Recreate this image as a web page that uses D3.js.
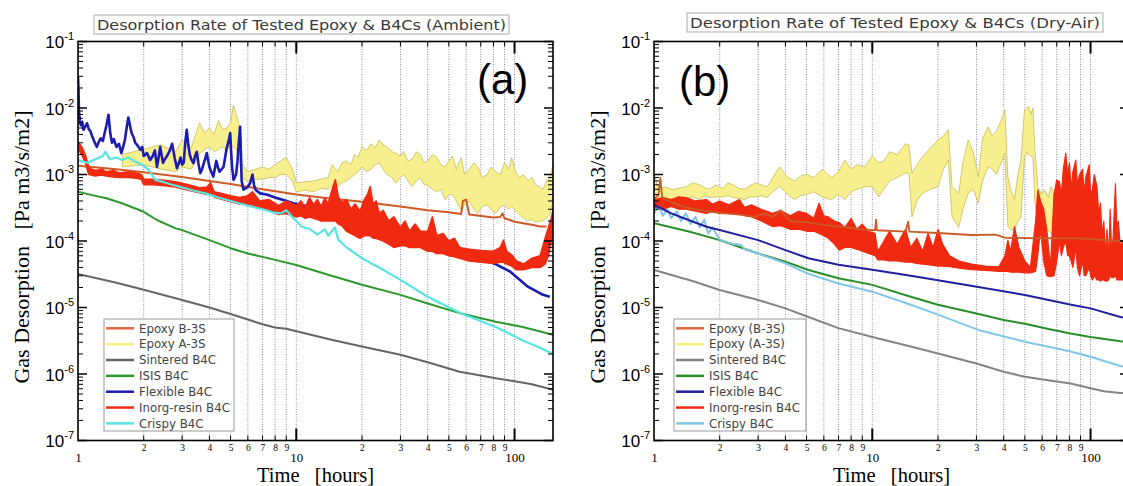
<!DOCTYPE html>
<html><head><meta charset="utf-8">
<script src="https://cdn.jsdelivr.net/npm/d3@7"></script>
<style>body{margin:0;background:#fff}svg{display:block;overflow:hidden}</style>
</head><body><svg id="c" width="1123" height="486"></svg>
<script>
// ---------- axis / tick data ----------
const xDomain = [1, 150];
const yDomain = [1e-7, 1e-1];
const xMajorTicks = [10, 100];
const xMajorLabels = [1, 10, 100];
const xMinorTicks = [2,3,4,5,6,7,8,9,20,30,40,50,60,70,80,90];
const yDecades = [1e-7,1e-6,1e-5,1e-4,1e-3,1e-2,1e-1];
const yExponents = [-7,-6,-5,-4,-3,-2,-1];
const yMinorMult = [2,3,4,5,6,7,8,9];

const legendA = ["Epoxy B-3S","Epoxy A-3S","Sintered B4C","ISIS B4C","Flexible B4C","Inorg-resin B4C","Crispy B4C"];
const legendB = ["Epoxy (B-3S)","Epoxy (A-3S)","Sintered B4C","ISIS B4C","Flexible B4C","Inorg-resin B4C","Crispy B4C"];

// ---------- panel (a) Ambient : [hours, value] ----------
const epoxyB_a = [[1,1.35e-3],[1.5,1.2e-3],[2,1.08e-3],[3,9.2e-4],[4,8e-4],[5,7.2e-4],[7,6.0e-4],[10,5.0e-4],[14,4.4e-4],[20,3.9e-4],[30,3.3e-4],[40,2.9e-4],[50,2.7e-4],[57,2.55e-4],[58,4.0e-4],[60,4.2e-4],[62,2.5e-4],[80,2.25e-4],[86,2.3e-4],[88,2.6e-4],[90,2.2e-4],[100,1.95e-4],[120,1.75e-4],[131,1.65e-4],[140,1.65e-4]];
// band: [hours, low, high]
const epoxyA_a = [[1.6,1.3e-3,2.0e-3],[2.0,1.4e-3,2.4e-3],[2.4,1.2e-3,2.8e-3],[2.8,1.1e-3,2.2e-3],[3.0,1.3e-3,3.3e-3],[3.3,1.2e-3,2.5e-3],[3.6,2.0e-3,6.0e-3],[3.8,2.4e-3,4.2e-3],[4.0,2.6e-3,5.0e-3],[4.2,2.2e-3,4.0e-3],[4.4,2.4e-3,6.5e-3],[4.6,2.6e-3,4.8e-3],[4.8,2.2e-3,5.0e-3],[5.0,2.8e-3,6.0e-3],[5.15,2.6e-3,1.1e-2],[5.3,2.4e-3,8.0e-3],[5.45,2.0e-3,6.0e-3],[5.6,9e-4,1.5e-3],[6.0,8e-4,1.1e-3],[6.5,8.5e-4,1.2e-3],[7.0,8.5e-4,1.3e-3],[7.5,9e-4,1.2e-3],[8.0,9e-4,1.4e-3],[8.5,1.0e-3,1.6e-3],[9.0,1.0e-3,1.8e-3],[9.6,8e-4,1.2e-3],[10,5.5e-4,7.5e-4],[11,5.8e-4,7.8e-4],[12,5.5e-4,8e-4],[13,6.2e-4,8.5e-4],[14,6e-4,9e-4],[14.6,7e-4,1.4e-3],[15.5,6.5e-4,1.1e-3],[16.2,7.5e-4,1.5e-3],[17,8e-4,1.6e-3],[17.8,9e-4,1.4e-3],[18.5,1.0e-3,2.0e-3],[19.2,1.1e-3,1.8e-3],[20,1.3e-3,2.6e-3],[21,1.1e-3,2.3e-3],[22,1.2e-3,2.9e-3],[23,1.4e-3,2.5e-3],[24,1.5e-3,3.3e-3],[25,1.2e-3,2.8e-3],[26,1.0e-3,2.6e-3],[27.5,9e-4,2.2e-3],[28.5,7.4e-4,2.1e-3],[30,9e-4,1.9e-3],[31,1.0e-3,2.2e-3],[32.5,8e-4,1.6e-3],[34,6.6e-4,1.7e-3],[35.5,8e-4,2.2e-3],[37,9e-4,2.0e-3],[38.5,7e-4,1.5e-3],[40,7e-4,1.6e-3],[42,6e-4,2.0e-3],[44,5.5e-4,1.8e-3],[46,6e-4,1.4e-3],[48,4.2e-4,1.3e-3],[50,5e-4,1.6e-3],[52,5e-4,1.9e-3],[54,4e-4,1.2e-3],[57,2.9e-4,1.8e-3],[59,3.5e-4,1.0e-3],[62,4e-4,1.2e-3],[65,3e-4,1.5e-3],[68,2.6e-4,1.3e-3],[71,3.3e-4,9e-4],[75,3.5e-4,1.0e-3],[78,3e-4,1.3e-3],[82,2.6e-4,1.1e-3],[86,3.2e-4,1.0e-3],[90,3.5e-4,1.5e-3],[94,3e-4,1.2e-3],[97,3.3e-4,1.8e-3],[101,2.8e-4,1.1e-3],[105,2.5e-4,9e-4],[110,2.2e-4,1.0e-3],[115,2.0e-4,8e-4],[120,2.1e-4,9e-4],[125,1.9e-4,7e-4],[130,2.0e-4,6.5e-4],[135,2.0e-4,6e-4],[140,2.2e-4,8e-4],[145,2.5e-4,9e-4],[150,4e-4,1.4e-3]];
const sintered_a = [[1,3.2e-5],[1.5,2.35e-5],[2,1.85e-5],[3,1.3e-5],[4,1.0e-5],[5,8.0e-6],[6,6.6e-6],[7,5.6e-6],[8,5.0e-6],[9,4.8e-6],[10,4.4e-6],[15,3.2e-6],[20,2.6e-6],[30,1.95e-6],[40,1.5e-6],[56,1.08e-6],[70,9.5e-7],[82,8.6e-7],[100,7.8e-7],[120,7.0e-7],[150,5.8e-7]];
const isis_a = [[1,5.5e-4],[1.16,4.9e-4],[1.35,4.4e-4],[1.59,3.7e-4],[2,2.75e-4],[2.3,2.07e-4],[2.8,1.55e-4],[3,1.46e-4],[4,1.03e-4],[5,7.8e-5],[6,6.5e-5],[8,5.2e-5],[10,4.36e-5],[14,3.1e-5],[20,2.2e-5],[30,1.55e-5],[40,1.15e-5],[57,8.1e-6],[82,6.1e-6],[109,5.1e-6],[150,3.9e-6]];
const flexible_a = [[1,3.0e-2],[1.005,2.0e-2],[1.01,9e-3],[1.02,6.5e-3],[1.03,5.5e-3],[1.045,6.2e-3],[1.06,4.7e-3],[1.08,5.3e-3],[1.1,5.9e-3],[1.12,4.8e-3],[1.14,4.5e-3],[1.16,3.8e-3],[1.18,3.3e-3],[1.2,2.9e-3],[1.22,2.6e-3],[1.245,3.1e-3],[1.27,3.5e-3],[1.3,3.2e-3],[1.32,4.0e-3],[1.35,5.5e-3],[1.38,7.9e-3],[1.405,4.2e-3],[1.43,3.0e-3],[1.46,3.4e-3],[1.5,2.6e-3],[1.54,2.9e-3],[1.58,2.1e-3],[1.61,2.6e-3],[1.64,3.3e-3],[1.67,5.0e-3],[1.7,7.2e-3],[1.73,5.5e-3],[1.76,4.2e-3],[1.8,3.6e-3],[1.83,3.0e-3],[1.88,2.7e-3],[1.93,2.35e-3],[1.97,2.6e-3],[2.0,1.9e-3],[2.07,2.1e-3],[2.14,1.65e-3],[2.2,1.9e-3],[2.25,2.3e-3],[2.3,1.3e-3],[2.34,1.8e-3],[2.38,2.6e-3],[2.45,1.5e-3],[2.5,1.7e-3],[2.55,1.86e-3],[2.62,2.2e-3],[2.7,2.9e-3],[2.77,1.8e-3],[2.84,1.24e-3],[2.9,1.5e-3],[2.95,1.8e-3],[3.0,1.4e-3],[3.05,1.5e-3],[3.1,3.0e-3],[3.15,4.7e-3],[3.2,2.8e-3],[3.25,2.0e-3],[3.3,1.7e-3],[3.38,1.48e-3],[3.44,1.9e-3],[3.5,2.2e-3],[3.57,1.4e-3],[3.63,1.05e-3],[3.7,1.2e-3],[3.75,1.4e-3],[3.82,1.7e-3],[3.89,2.1e-3],[3.95,1.6e-3],[4.0,1.3e-3],[4.08,1.1e-3],[4.17,9.3e-4],[4.23,1.2e-3],[4.3,1.6e-3],[4.37,1.3e-3],[4.45,1.1e-3],[4.55,1.2e-3],[4.64,1.3e-3],[4.72,1.8e-3],[4.8,2.5e-3],[4.9,3.2e-3],[4.98,4.2e-3],[5.03,2.2e-3],[5.08,1.3e-3],[5.16,8.3e-4],[5.22,9e-4],[5.3,1.0e-3],[5.38,1.6e-3],[5.45,3.0e-3],[5.53,5.2e-3],[5.58,2.0e-3],[5.62,8e-4],[5.73,5.9e-4],[5.85,6.2e-4],[6.0,6.5e-4],[6.15,7.5e-4],[6.3,1.0e-3],[6.4,7e-4],[6.5,5.9e-4],[6.83,5.2e-4],[7.3,5e-4],[8,4.5e-4],[8.8,4.1e-4],[9.7,3.7e-4],[13.8,2.9e-4],[19.6,2.2e-4],[27.9,1.47e-4],[39.7,1.03e-4],[56.5,7.3e-5],[80.5,4.6e-5],[95,3.5e-5],[114,2.1e-5],[135,1.55e-5],[145,1.45e-5]];
const inorg_a = [[1,2.4e-3,3.1e-3],[1.04,2.0e-3,2.6e-3],[1.08,1.5e-3,2.0e-3],[1.12,1.0e-3,1.25e-3],[1.2,9.5e-4,1.15e-3],[1.28,9.8e-4,1.2e-3],[1.35,9.5e-4,1.1e-3],[1.45,9.2e-4,1.15e-3],[1.55,9.0e-4,1.05e-3],[1.7,9.0e-4,1.1e-3],[1.85,8.8e-4,1.05e-3],[1.95,8.5e-4,1.0e-3],[2.0,7.0e-4,8.5e-4],[2.2,7.0e-4,8.5e-4],[2.5,6.8e-4,8.2e-4],[2.8,6.5e-4,7.8e-4],[3.2,5.8e-4,7.0e-4],[3.6,5.3e-4,6.3e-4],[3.9,5.0e-4,6.5e-4],[4.05,5.0e-4,7.5e-4],[4.2,4.6e-4,5.5e-4],[4.5,4.3e-4,5.2e-4],[5.0,3.9e-4,4.8e-4],[5.5,3.6e-4,4.5e-4],[6.0,3.5e-4,4.8e-4],[6.3,3.5e-4,5.5e-4],[6.8,3.1e-4,4.0e-4],[7.5,3.0e-4,4.2e-4],[8.3,2.5e-4,3.4e-4],[9,2.6e-4,4.0e-4],[10,2.3e-4,3.4e-4],[10.5,2.4e-4,4.0e-4],[11,2.2e-4,3.2e-4],[11.5,2.3e-4,4.5e-4],[12,2.2e-4,3.5e-4],[12.5,2.1e-4,4.2e-4],[13,2.0e-4,3.3e-4],[13.5,2.0e-4,4.4e-4],[14,2.0e-4,3.6e-4],[14.6,2.0e-4,6.0e-4],[15.1,2.0e-4,8.3e-4],[15.6,1.8e-4,4.5e-4],[16.2,1.7e-4,3.8e-4],[17,1.4e-4,4.2e-4],[17.8,1.3e-4,3.0e-4],[18.6,1.2e-4,3.6e-4],[19.6,1.1e-4,2.8e-4],[20.5,1.2e-4,4.2e-4],[21.2,1.2e-4,5.0e-4],[21.8,1.2e-4,6.6e-4],[22.5,1.1e-4,3.5e-4],[23.2,1.1e-4,4.0e-4],[24,1.05e-4,2.6e-4],[25,1.0e-4,2.9e-4],[26.5,9e-5,2.0e-4],[28,8e-5,2.3e-4],[30,8.5e-5,1.6e-4],[31.5,8.5e-5,2.0e-4],[33,8e-5,1.4e-4],[35,8e-5,1.8e-4],[37,8e-5,1.4e-4],[40,7e-5,1.4e-4],[42,7e-5,2.3e-4],[44,6.5e-5,1.2e-4],[47,6.5e-5,1.3e-4],[50,6e-5,1.0e-4],[53,5.8e-5,1.1e-4],[56,5.5e-5,8e-5],[62,5e-5,7.5e-5],[70,4.8e-5,7.2e-5],[80,4.6e-5,7e-5],[86,4.8e-5,8e-5],[89,4.8e-5,1.03e-4],[92,4.5e-5,7e-5],[97,4.2e-5,6.2e-5],[102,3.7e-5,5e-5],[110,3.7e-5,4.5e-5],[120,4.0e-5,5.5e-5],[131,4.0e-5,6.0e-5],[138,4.5e-5,1.1e-4],[143,6e-5,1.6e-4],[147,1.0e-4,2.2e-4],[150,1.3e-4,2.9e-4]];
const crispy_a = [[1,1.65e-3],[1.1,1.5e-3],[1.2,1.7e-3],[1.3,1.9e-3],[1.335,2.2e-3],[1.4,1.7e-3],[1.5,1.8e-3],[1.59,1.65e-3],[1.7,1.8e-3],[1.8,1.6e-3],[1.9,1.48e-3],[2.0,1.35e-3],[2.11,1.17e-3],[2.26,8.3e-4],[2.5,7.6e-4],[2.7,7.0e-4],[3.0,6.4e-4],[3.4,5.7e-4],[3.84,5.2e-4],[4.4,4.5e-4],[5.0,4.0e-4],[5.46,3.7e-4],[6.2,3.3e-4],[7,3.0e-4],[7.8,2.7e-4],[8.5,2.6e-4],[9,2.9e-4],[9.7,2.2e-4],[10.6,1.64e-4],[11.6,1.5e-4],[12.5,1.25e-4],[13.5,1.5e-4],[14,1.2e-4],[15,1.6e-4],[15.6,1.05e-4],[17,8e-5],[20,5.5e-5],[25,3.7e-5],[30,2.6e-5],[40,1.45e-5],[57,8.1e-6],[82,5.1e-6],[109,3.2e-6],[130,2.5e-6],[150,2.0e-6]];

// ---------- panel (b) Dry-Air ----------
const epoxyB_b = [[1,4.2e-4],[1.05,5e-4],[1.07,8.9e-4],[1.09,4.5e-4],[1.2,3.8e-4],[1.4,3.2e-4],[1.74,2.8e-4],[2.1,2.6e-4],[2.5,2.5e-4],[2.9,2.3e-4],[3.2,2.6e-4],[3.5,2.3e-4],[3.8,2.9e-4],[4.2,2.0e-4],[5,1.9e-4],[6,1.75e-4],[7.05,1.64e-4],[9,1.5e-4],[10.3,1.45e-4],[10.4,2.1e-4],[10.5,1.45e-4],[14.2,1.38e-4],[14.6,1.96e-4],[14.8,1.38e-4],[20,1.32e-4],[28.5,1.23e-4],[36.6,1.25e-4],[40.5,1.12e-4],[57,1.1e-4],[87.7,1.1e-4],[137,1.0e-4],[150,9.9e-5]];
const epoxyA_b = [[1.0,5e-4,1.05e-3],[1.05,4.6e-4,6e-4],[1.12,4.4e-4,6.5e-4],[1.22,4.2e-4,5.9e-4],[1.3,4.6e-4,6.2e-4],[1.4,4.3e-4,6.5e-4],[1.5,4.6e-4,7.5e-4],[1.62,4.2e-4,7e-4],[1.7,4.8e-4,6.4e-4],[1.8,4.5e-4,6e-4],[1.92,4.6e-4,7e-4],[2.06,4.6e-4,6.2e-4],[2.18,4.8e-4,7.5e-4],[2.3,4.5e-4,7e-4],[2.45,4.4e-4,6.2e-4],[2.6,4.2e-4,6e-4],[2.75,4.6e-4,6.8e-4],[2.94,4.6e-4,7.5e-4],[3.1,4.8e-4,7e-4],[3.3,4.5e-4,6.5e-4],[3.5,5.5e-4,9e-4],[3.76,6.6e-4,1.3e-3],[4.1,5e-4,9e-4],[4.4,4.2e-4,8e-4],[4.7,4.8e-4,9.5e-4],[5.0,5e-4,1.0e-3],[5.4,5.5e-4,9e-4],[5.9,4.6e-4,1.2e-3],[6.5,4.2e-4,9e-4],[7.0,5e-4,1.1e-3],[7.5,4.2e-4,1.65e-3],[8.0,5.5e-4,1.2e-3],[8.5,6e-4,1.4e-3],[9.2,6.5e-4,1.3e-3],[10,6.6e-4,1.9e-3],[10.7,4.6e-4,1.5e-3],[11.3,6e-4,1.6e-3],[12,8e-4,2.2e-3],[13,9e-4,2.0e-3],[14.2,1.05e-3,2.9e-3],[14.7,1.05e-3,2.8e-3],[15.2,2.3e-4,1.05e-3],[16,4e-4,1.4e-3],[16.9,5.2e-4,1.8e-3],[18.5,6e-4,2.5e-3],[20,6.6e-4,3.3e-3],[21.2,1.2e-3,3.8e-3],[22.3,1.65e-3,4.7e-3],[23.2,2.3e-4,6.6e-4],[24.9,1.6e-4,5.2e-4],[26,3e-4,1.5e-3],[27.5,5.2e-4,3.3e-3],[29,6e-4,2.2e-3],[30.6,3.7e-4,9.3e-4],[32,8e-4,3.5e-3],[34,1.3e-3,5.2e-3],[35.5,1.2e-3,3.8e-3],[37,1.0e-3,4.5e-3],[39,1.5e-3,6.5e-3],[40.5,2.1e-3,9.3e-3],[41.8,1.64e-4,9.3e-4],[43,1.5e-4,6e-4],[44.8,1.47e-4,4.2e-4],[46.5,2e-4,1.0e-3],[48,2.3e-4,1.65e-3],[49.8,1.8e-3,9.3e-3],[51,2.2e-3,1.0e-2],[52,2.0e-3,1.05e-2],[53.3,1.9e-3,8e-3],[54.5,1.8e-3,1.0e-2],[55.5,4e-4,2.5e-3],[57.3,2.1e-4,6.6e-4],[59.5,1.8e-4,5e-4],[61.5,1.6e-4,5.9e-4],[64,1.4e-4,4.5e-4],[66,1.3e-4,6.6e-4],[70,1.4e-4,4e-4],[75,1.2e-4,2.5e-4],[80,1.25e-4,2.3e-4],[85,1.2e-4,2.1e-4],[95,1.1e-4,1.6e-4],[105,1.05e-4,1.3e-4]];
const sintered_b = [[1,3.66e-5],[1.5,2.5e-5],[2,1.83e-5],[3,1.3e-5],[4,9.7e-6],[5.1,7.2e-6],[7,4.9e-6],[10,3.6e-6],[15,2.6e-6],[20,2.04e-6],[30,1.44e-6],[40,1.08e-6],[50,9.1e-7],[65,8.0e-7],[81,7.2e-7],[100,6.1e-7],[115,5.5e-7],[137,5.2e-7],[150,5.1e-7]];
const isis_b = [[1,1.85e-4],[1.46,1.38e-4],[2,1.03e-4],[3,6.5e-5],[4,4.9e-5],[5.1,3.66e-5],[7,2.75e-5],[10,2.19e-5],[15,1.45e-5],[20,1.1e-5],[30,8.1e-6],[40,6.5e-6],[50,5.7e-6],[65,4.7e-6],[81,4.05e-6],[100,3.6e-6],[137,3.1e-6],[150,3.0e-6]];
const flexible_b = [[1,3.5e-4],[1.1,3.0e-4],[1.2,2.6e-4],[1.37,2.2e-4],[1.74,1.64e-4],[2,1.46e-4],[3,1.03e-4],[4,7.3e-5],[5.1,5.5e-5],[7,4.4e-5],[10,3.7e-5],[15,3.0e-5],[20,2.57e-5],[30.6,2.04e-5],[50,1.54e-5],[81.5,1.1e-5],[100,9.7e-6],[137,7.2e-6],[150,6.8e-6]];
const inorg_b = [[1.0,3.2e-4,4.2e-4],[1.1,3.0e-4,4.5e-4],[1.2,3.3e-4,4.2e-4],[1.3,3.0e-4,4.6e-4],[1.4,3.0e-4,4.5e-4],[1.55,2.8e-4,4.0e-4],[1.74,2.6e-4,4.2e-4],[1.85,2.8e-4,3.6e-4],[2.0,2.6e-4,4.0e-4],[2.2,2.6e-4,3.5e-4],[2.46,2.5e-4,4.2e-4],[2.6,2.4e-4,3.2e-4],[2.8,2.3e-4,3.5e-4],[3.1,2.0e-4,3.0e-4],[3.5,1.64e-4,2.6e-4],[3.8,1.7e-4,2.9e-4],[4.2,1.5e-4,2.4e-4],[4.6,1.5e-4,2.8e-4],[5.0,1.4e-4,2.6e-4],[5.4,1.4e-4,2.2e-4],[5.7,1.3e-4,3.7e-4],[6.0,1.2e-4,2.4e-4],[6.3,1.1e-4,2.3e-4],[6.7,9e-5,2.0e-4],[7.05,7.3e-5,1.9e-4],[7.5,8e-5,1.6e-4],[8,8e-5,2.2e-4],[8.5,7.5e-5,1.5e-4],[9,7e-5,1.8e-4],[9.6,6.5e-5,1.4e-4],[10.3,6e-5,1.3e-4],[10.6,5.2e-5,7e-5],[11.3,5.2e-5,1.0e-4],[12,5e-5,1.4e-4],[13,5e-5,9e-5],[14.2,4.8e-5,1.5e-4],[15,4.8e-5,8e-5],[16,4.6e-5,1.1e-4],[17,4.5e-5,7e-5],[18,4.4e-5,1.3e-4],[19,4.3e-5,8e-5],[20,4.2e-5,1.5e-4],[21,4.2e-5,9e-5],[22.6,4.1e-5,6e-5],[25,3.9e-5,5e-5],[28.5,3.7e-5,4.5e-5],[33,3.6e-5,4.2e-5],[38,3.5e-5,4.1e-5],[40.5,3.5e-5,6e-5],[41.8,3.5e-5,1.03e-4],[43,3.4e-5,7e-5],[44.8,3.4e-5,1.64e-4],[47,3.4e-5,8e-5],[50,3.3e-5,5e-5],[53,3.3e-5,4e-5],[56,3.5e-5,2e-4],[57.3,6e-5,5.9e-4],[59,1.5e-4,4e-4],[61,5e-5,3e-4],[63,3e-5,1.5e-4],[65.5,2.9e-5,4e-5],[68,3e-5,5e-4],[70,5e-5,8.3e-4],[72,1e-4,7.8e-4],[73.5,6e-5,5e-4],[75,8e-5,1.2e-3],[77,1e-4,2.1e-3],[78.5,6e-5,1.0e-3],[80,6e-5,1.5e-3],[81.5,5e-5,6e-4],[83,4e-5,1.1e-3],[85.6,8e-5,1.65e-3],[87,4e-5,7e-4],[89,3e-5,1.0e-3],[92,5e-5,1.2e-3],[93.5,3e-5,5e-4],[95,3e-5,9e-4],[98.6,4e-5,1.4e-3],[100,3e-5,5e-4],[102,2.6e-5,6e-4],[104,3e-5,1.0e-3],[107,2.6e-5,6.6e-4],[109,2.6e-5,2.5e-4],[111,2.5e-5,3.7e-4],[113,2.6e-5,1.2e-4],[115,2.6e-5,2e-4],[117,2.5e-5,6e-5],[119,2.5e-5,1.5e-4],[121,2.6e-5,5e-5],[123,3e-5,3e-4],[125,2.8e-5,6e-5],[127,2.8e-5,1.2e-4],[130,3e-5,7.3e-4],[132,2.6e-5,1.5e-4],[134,2.6e-5,2e-4],[137,2.6e-5,8e-5],[140,2.6e-5,1e-4],[145,2.8e-5,7e-5],[150,3e-5,1e-4]];
const crispy_b = [[1,2.6e-4],[1.05,3.3e-4],[1.1,2.4e-4],[1.15,3.0e-4],[1.2,2.2e-4],[1.27,2.8e-4],[1.33,2.0e-4],[1.4,2.6e-4],[1.47,1.8e-4],[1.55,2.3e-4],[1.62,1.6e-4],[1.7,2.1e-4],[1.77,1.3e-4],[1.85,1.6e-4],[2,1.05e-4],[2.3,9e-5],[2.5,8.8e-5],[2.6,7.5e-5],[3,6.5e-5],[4,4.6e-5],[5.1,3.2e-5],[7,2.3e-5],[10,1.73e-5],[15,1.1e-5],[20,7.8e-6],[30.6,4.6e-6],[50,3.05e-6],[81,2.18e-6],[100,1.82e-6],[137,1.32e-6],[150,1.25e-6]];

// ---------- drawing ----------
const svg = d3.select("#c");
const W = 475, H = 399, TOP = 41.5;
const defs = svg.append("defs");
const SERIF = "'Liberation Serif','Times New Roman',serif";

function panel(cfg) {
  const g = svg.append("g").attr("transform", `translate(${cfg.left},${TOP})`);
  const x = d3.scaleLog().domain(xDomain).range([0, W]);
  const y = d3.scaleLog().domain(yDomain).range([H, 0]);
  const cid = "clip" + cfg.id;
  defs.append("clipPath").attr("id", cid).append("rect").attr("width", W).attr("height", H);

  // vertical dotted grid
  g.append("g").selectAll("line").data(xMinorTicks.concat(xMajorTicks)).join("line")
    .attr("x1", d => x(d)).attr("x2", d => x(d)).attr("y1", 0).attr("y2", H)
    .attr("stroke", "#3c3c70").attr("stroke-width", 0.8).attr("stroke-dasharray", "1,1.5").attr("opacity", 0.75);

  const dg = g.append("g").attr("clip-path", `url(#${cid})`);
  const line = d3.line().x(d => x(d[0])).y(d => y(d[1]));
  const area = d3.area().x(d => x(d[0])).y0(d => y(d[1])).y1(d => y(d[2]));

  cfg.order.forEach(s => {
    if (s.band) {
      dg.append("path").datum(s.data).attr("d", area)
        .attr("fill", s.fill).attr("stroke", s.stroke).attr("stroke-width", s.sw).attr("stroke-linejoin", "round");
    } else {
      dg.append("path").datum(s.data).attr("d", line)
        .attr("fill", "none").attr("stroke", s.stroke).attr("stroke-width", s.sw).attr("stroke-linejoin", "round");
    }
  });

  // frame
  g.append("rect").attr("width", W).attr("height", H).attr("fill", "none").attr("stroke", "#000").attr("stroke-width", 1.6);

  // y ticks (inward, both sides)
  const yMinor = [];
  yDecades.slice(0, -1).forEach(d => yMinorMult.forEach(m => yMinor.push(d * m)));
  const tk = g.append("g").attr("stroke", "#000");
  yDecades.forEach(d => {
    tk.append("line").attr("x1", 0).attr("x2", 9).attr("y1", y(d)).attr("y2", y(d)).attr("stroke-width", 1.5);
    tk.append("line").attr("x1", W).attr("x2", W - 9).attr("y1", y(d)).attr("y2", y(d)).attr("stroke-width", 1.5);
  });
  yMinor.forEach(d => {
    tk.append("line").attr("x1", 0).attr("x2", 5).attr("y1", y(d)).attr("y2", y(d)).attr("stroke-width", 1);
    tk.append("line").attr("x1", W).attr("x2", W - 5).attr("y1", y(d)).attr("y2", y(d)).attr("stroke-width", 1);
  });
  // x ticks (inward, top & bottom)
  xMajorTicks.forEach(d => {
    tk.append("line").attr("x1", x(d)).attr("x2", x(d)).attr("y1", H).attr("y2", H - 12).attr("stroke-width", 2);
    tk.append("line").attr("x1", x(d)).attr("x2", x(d)).attr("y1", 0).attr("y2", 12).attr("stroke-width", 2);
  });
  xMinorTicks.forEach(d => {
    tk.append("line").attr("x1", x(d)).attr("x2", x(d)).attr("y1", H).attr("y2", H - 5).attr("stroke-width", 1);
    tk.append("line").attr("x1", x(d)).attr("x2", x(d)).attr("y1", 0).attr("y2", 5).attr("stroke-width", 1);
  });

  // x labels through axes
  const ax1 = g.append("g").attr("transform", `translate(0,${H})`)
    .call(d3.axisBottom(x).tickValues(xMajorLabels).tickSize(0).tickFormat(d3.format("d")));
  ax1.select(".domain").remove();
  ax1.selectAll("text").attr("y", 21).attr("dy", 0).attr("fill", "#000")
    .style("font-family", SERIF).style("font-size", "13px");
  const ax2 = g.append("g").attr("transform", `translate(0,${H})`)
    .call(d3.axisBottom(x).tickValues(xMinorTicks).tickSize(0).tickFormat(d => String(d).charAt(0)));
  ax2.select(".domain").remove();
  ax2.selectAll("text").attr("y", 10.5).attr("dy", 0).attr("fill", "#000")
    .style("font-family", SERIF).style("font-size", "9.5px");

  // y labels
  const ay = g.append("g").call(d3.axisLeft(y).tickValues(yDecades).tickSize(0).tickFormat(""));
  ay.select(".domain").remove();
  ay.selectAll("text").each(function (d, i) {
    const t = d3.select(this).attr("x", -cfg.labelGap).attr("dy", 0).attr("y", 6)
      .attr("fill", "#000").attr("text-anchor", "end")
      .style("font-family", "'Liberation Sans',Arial,sans-serif").style("font-size", "17px");
    t.append("tspan").text("10");
    t.append("tspan").attr("dy", -8).style("font-size", "11px").text(String(yExponents[i]));
  });

  // axis titles
  svg.append("text").attr("x", cfg.left + W / 2).attr("y", 481.5).attr("text-anchor", "middle")
    .attr("xml:space", "preserve").style("white-space", "pre")
    .style("font-family", SERIF).style("font-size", "20.5px").attr("fill", "#000")
    .text("Time   [hours]");
  svg.append("text").attr("transform", `translate(${cfg.ylabX},247) rotate(-90)`).attr("text-anchor", "middle")
    .attr("xml:space", "preserve").style("white-space", "pre")
    .style("font-family", SERIF).style("font-size", "22px").attr("fill", "#000")
    .text("Gas Desorption   [Pa m3/s/m2]");

  // title box
  svg.append("rect").attr("x", cfg.tx0).attr("y", cfg.ty0).attr("width", cfg.tx1 - cfg.tx0).attr("height", 19)
    .attr("fill", "#fff").attr("stroke", "#aaa").attr("stroke-width", 1);
  svg.append("text").attr("x", (cfg.tx0 + cfg.tx1) / 2).attr("y", cfg.ty0 + 15).attr("text-anchor", "middle")
    .attr("textLength", cfg.tx1 - cfg.tx0 - 6).attr("lengthAdjust", "spacingAndGlyphs")
    .style("font-family", "'DejaVu Sans',sans-serif").style("font-size", "14.5px").attr("fill", "#3a3a3a")
    .text(cfg.title);

  // panel letter
  svg.append("text").attr("x", cfg.letterX).attr("y", cfg.letterY)
    .style("font-family", "'Liberation Sans',Arial,sans-serif").style("font-size", "42px").attr("fill", "#000")
    .text(cfg.letter);

  // legend
  const lg = svg.append("g").attr("transform", `translate(${cfg.legX},319)`);
  lg.append("rect").attr("width", cfg.legW).attr("height", 112).attr("fill", "#fff").attr("stroke", "#9a9a9a").attr("stroke-width", 1);
  cfg.legend.forEach((name, i) => {
    const yy = 9.3 + i * 15.85;
    lg.append("line").attr("x1", 2).attr("x2", 30).attr("y1", yy).attr("y2", yy)
      .attr("stroke", cfg.legColors[i]).attr("stroke-width", 2.5);
    lg.append("text").attr("x", 35).attr("y", yy + 4.3)
      .style("font-family", "'DejaVu Sans',sans-serif").style("font-size", "11.8px").attr("fill", "#444")
      .text(name);
  });
}

const colA = {orange:"#cf5a26", yellowF:"#f8f08e", yellowS:"#c8bb5a", gray:"#666666", green:"#2e992e", blue:"#1c1cb0", red:"#f02a10", cyan:"#58e4e4"};
const colB = {orange:"#cc5a26", yellowF:"#f8f08e", yellowS:"#c8bb5a", gray:"#858585", green:"#2a8e2a", blue:"#2020a0", red:"#f02a10", cyan:"#80c6e8"};

panel({
  id: "a", left: 78, labelGap: 4, ylabX: 29,
  tx0: 94, tx1: 509, ty0: 15, title: "Desorption Rate of Tested Epoxy & B4Cs (Ambient)",
  letter: "(a)", letterX: 477, letterY: 94,
  legX: 104, legW: 130, legend: legendA,
  legColors: ["#e0683e", "#f5ef7a", colA.gray, colA.green, colA.blue, colA.red, colA.cyan],
  order: [
    {band: true, data: epoxyA_a, fill: colA.yellowF, stroke: colA.yellowS, sw: 0.8},
    {data: epoxyB_a, stroke: colA.orange, sw: 2},
    {data: sintered_a, stroke: colA.gray, sw: 2},
    {data: isis_a, stroke: colA.green, sw: 2},
    {data: flexible_a, stroke: colA.blue, sw: 2.6},
    {band: true, data: inorg_a, fill: colA.red, stroke: colA.red, sw: 1.6},
    {data: crispy_a, stroke: colA.cyan, sw: 2.2}
  ]
});
panel({
  id: "b", left: 654, labelGap: 4, ylabX: 605,
  tx0: 687, tx1: 1103, ty0: 13, title: "Desorption Rate of Tested Epoxy & B4Cs (Dry-Air)",
  letter: "(b)", letterX: 679, letterY: 96,
  legX: 674, legW: 132, legend: legendB,
  legColors: ["#e0683e", "#f5ef7a", colB.gray, colB.green, colB.blue, colB.red, colB.cyan],
  order: [
    {band: true, data: epoxyA_b, fill: colB.yellowF, stroke: colB.yellowS, sw: 0.8},
    {band: true, data: inorg_b, fill: colB.red, stroke: colB.red, sw: 1.2},
    {data: epoxyB_b, stroke: colB.orange, sw: 1.8},
    {data: sintered_b, stroke: colB.gray, sw: 2},
    {data: isis_b, stroke: colB.green, sw: 2},
    {data: crispy_b, stroke: colB.cyan, sw: 2},
    {data: flexible_b, stroke: colB.blue, sw: 2}
  ]
});
</script>
</body></html>
